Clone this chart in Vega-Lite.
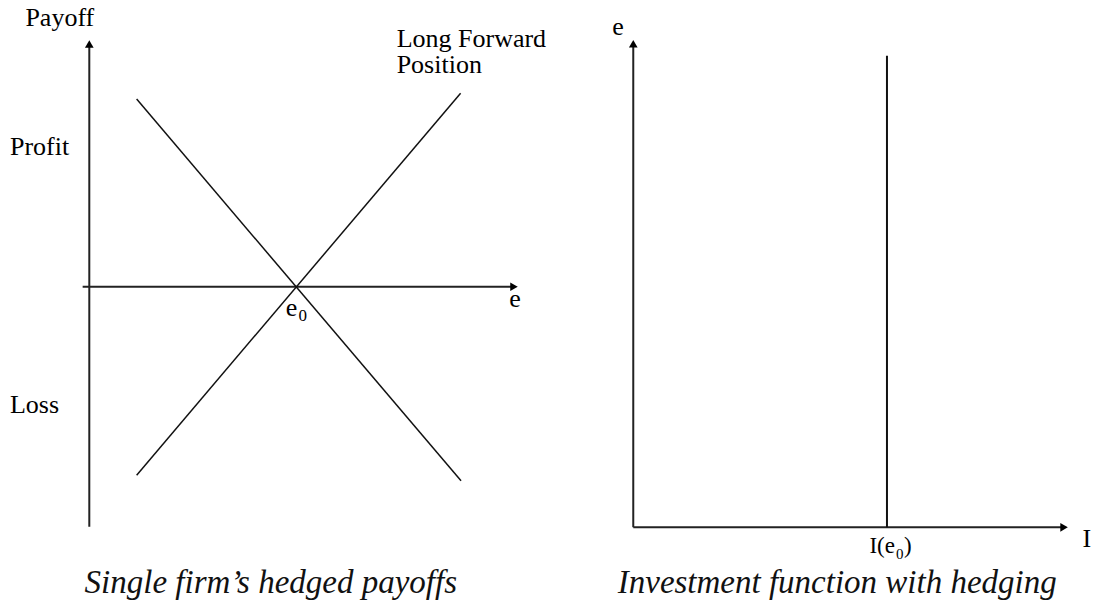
{
  "$schema": "https://vega.github.io/schema/vega-lite/v6.json",
  "padding": 0,
  "spacing": 0,
  "background": "white",
  "config": {"view": {"stroke": null}, "concat": {"spacing": 0}, "text": {"font": "Liberation Serif"}},
  "datasets": {
    "leftSegments": [
      {"kind": "axis", "x": 0, "y": -12.77, "x2": 0, "y2": 12.91},
      {"kind": "axis", "x": -0.32, "y": 0, "x2": 20.45, "y2": 0},
      {"kind": "payoff", "x": 2.28, "y": 9.98, "x2": 17.9, "y2": -10.32},
      {"kind": "payoff", "x": 2.28, "y": -10.02, "x2": 17.88, "y2": 10.29}
    ],
    "leftArrows": [
      {"axis": "vertical", "x": 0, "y": 12.91},
      {"axis": "horizontal", "x": 20.45, "y": 0}
    ],
    "leftLabels": [
      {"role": "center", "label": "Payoff", "x": -1.42, "y": 13.87},
      {"role": "left", "label": "Profit", "x": -3.82, "y": 7.0},
      {"role": "left", "label": "Loss", "x": -3.82, "y": -6.72},
      {"role": "left", "label": "Long Forward", "x": 14.8, "y": 12.77},
      {"role": "left", "label": "Position", "x": 14.8, "y": 11.38},
      {"role": "center", "label": "e", "x": 20.5, "y": -1.08},
      {"role": "center", "label": "e", "x": 9.74, "y": -1.56},
      {"role": "subscript", "label": "0", "x": 10.07, "y": -1.82},
      {"role": "caption", "label": "Single firm’s hedged payoffs", "x": 8.74, "y": -16.31}
    ],
    "rightSegments": [
      {"kind": "axis", "x": 0, "y": 0, "x2": 0, "y2": 10.25},
      {"kind": "axis", "x": 0, "y": 0, "x2": 16.98, "y2": 0},
      {"kind": "investment", "x": 10, "y": 0, "x2": 10, "y2": 10}
    ],
    "rightArrows": [
      {"axis": "vertical", "x": 0, "y": 10.25},
      {"axis": "horizontal", "x": 16.98, "y": 0}
    ],
    "rightLabels": [
      {"role": "center", "label": "e", "x": -0.6, "y": 10.44},
      {"role": "center", "label": "I", "x": 17.88, "y": -0.42},
      {"role": "right", "label": "I(e", "x": 10.315, "y": -0.545},
      {"role": "subscript", "label": "0", "x": 10.355, "y": -0.672},
      {"role": "paren", "label": ")", "x": 10.67, "y": -0.545},
      {"role": "caption", "label": "Investment function with hedging", "x": 8.04, "y": -1.4}
    ]
  },
  "hconcat": [
    {
      "width": 547,
      "height": 600,
      "layer": [
        {
          "data": {"name": "leftSegments"},
          "transform": [{"filter": "datum.kind == 'axis'"}],
          "mark": {"type": "rule", "color": "#222", "strokeWidth": 2},
          "encoding": {
            "x": {"field": "x", "type": "quantitative", "scale": {"domain": [-4.3, 22.04], "nice": false, "zero": false}, "axis": null},
            "y": {"field": "y", "type": "quantitative", "scale": {"domain": [-16.66, 15.25], "nice": false, "zero": false}, "axis": null},
            "x2": {"field": "x2"},
            "y2": {"field": "y2"}
          }
        },
        {
          "data": {"name": "leftSegments"},
          "transform": [{"filter": "datum.kind == 'payoff'"}],
          "mark": {"type": "rule", "color": "#111", "strokeWidth": 1.5},
          "encoding": {
            "x": {"field": "x", "type": "quantitative", "scale": {"domain": [-4.3, 22.04], "nice": false, "zero": false}, "axis": null},
            "y": {"field": "y", "type": "quantitative", "scale": {"domain": [-16.66, 15.25], "nice": false, "zero": false}, "axis": null},
            "x2": {"field": "x2"},
            "y2": {"field": "y2"}
          }
        },
        {
          "data": {"name": "leftArrows"},
          "transform": [{"filter": "datum.axis == 'vertical'"}],
          "mark": {"type": "point", "shape": "triangle-up", "filled": true, "color": "#000", "size": 75, "opacity": 1},
          "encoding": {
            "x": {"field": "x", "type": "quantitative", "scale": {"domain": [-4.3, 22.04], "nice": false, "zero": false}, "axis": null},
            "y": {"field": "y", "type": "quantitative", "scale": {"domain": [-16.66, 15.25], "nice": false, "zero": false}, "axis": null}
          }
        },
        {
          "data": {"name": "leftArrows"},
          "transform": [{"filter": "datum.axis == 'horizontal'"}],
          "mark": {"type": "point", "shape": "triangle-right", "filled": true, "color": "#000", "size": 75, "opacity": 1},
          "encoding": {
            "x": {"field": "x", "type": "quantitative", "scale": {"domain": [-4.3, 22.04], "nice": false, "zero": false}, "axis": null},
            "y": {"field": "y", "type": "quantitative", "scale": {"domain": [-16.66, 15.25], "nice": false, "zero": false}, "axis": null}
          }
        },
        {
          "data": {"name": "leftLabels"},
          "transform": [{"filter": "datum.role == 'center'"}],
          "mark": {"type": "text", "font": "Liberation Serif", "fontSize": 26, "align": "center", "baseline": "alphabetic", "color": "#000"},
          "encoding": {
            "x": {"field": "x", "type": "quantitative", "scale": {"domain": [-4.3, 22.04], "nice": false, "zero": false}, "axis": null},
            "y": {"field": "y", "type": "quantitative", "scale": {"domain": [-16.66, 15.25], "nice": false, "zero": false}, "axis": null},
            "text": {"field": "label"}
          }
        },
        {
          "data": {"name": "leftLabels"},
          "transform": [{"filter": "datum.role == 'left'"}],
          "mark": {"type": "text", "font": "Liberation Serif", "fontSize": 26, "align": "left", "baseline": "alphabetic", "color": "#000"},
          "encoding": {
            "x": {"field": "x", "type": "quantitative", "scale": {"domain": [-4.3, 22.04], "nice": false, "zero": false}, "axis": null},
            "y": {"field": "y", "type": "quantitative", "scale": {"domain": [-16.66, 15.25], "nice": false, "zero": false}, "axis": null},
            "text": {"field": "label"}
          }
        },
        {
          "data": {"name": "leftLabels"},
          "transform": [{"filter": "datum.role == 'subscript'"}],
          "mark": {"type": "text", "font": "Liberation Serif", "fontSize": 17, "align": "left", "baseline": "alphabetic", "color": "#000"},
          "encoding": {
            "x": {"field": "x", "type": "quantitative", "scale": {"domain": [-4.3, 22.04], "nice": false, "zero": false}, "axis": null},
            "y": {"field": "y", "type": "quantitative", "scale": {"domain": [-16.66, 15.25], "nice": false, "zero": false}, "axis": null},
            "text": {"field": "label"}
          }
        },
        {
          "data": {"name": "leftLabels"},
          "transform": [{"filter": "datum.role == 'caption'"}],
          "mark": {"type": "text", "font": "Liberation Serif", "fontStyle": "italic", "fontSize": 33, "align": "center", "baseline": "alphabetic", "color": "#111"},
          "encoding": {
            "x": {"field": "x", "type": "quantitative", "scale": {"domain": [-4.3, 22.04], "nice": false, "zero": false}, "axis": null},
            "y": {"field": "y", "type": "quantitative", "scale": {"domain": [-16.66, 15.25], "nice": false, "zero": false}, "axis": null},
            "text": {"field": "label"}
          }
        }
      ]
    },
    {
      "width": 547,
      "height": 600,
      "layer": [
        {
          "data": {"name": "rightSegments"},
          "transform": [{"filter": "datum.kind == 'axis'"}],
          "mark": {"type": "rule", "color": "#222", "strokeWidth": 2},
          "encoding": {
            "x": {"field": "x", "type": "quantitative", "scale": {"domain": [-3.4, 18.16], "nice": false, "zero": false}, "axis": null},
            "y": {"field": "y", "type": "quantitative", "scale": {"domain": [-1.54, 11.18], "nice": false, "zero": false}, "axis": null},
            "x2": {"field": "x2"},
            "y2": {"field": "y2"}
          }
        },
        {
          "data": {"name": "rightSegments"},
          "transform": [{"filter": "datum.kind == 'investment'"}],
          "mark": {"type": "rule", "color": "#111", "strokeWidth": 2},
          "encoding": {
            "x": {"field": "x", "type": "quantitative", "scale": {"domain": [-3.4, 18.16], "nice": false, "zero": false}, "axis": null},
            "y": {"field": "y", "type": "quantitative", "scale": {"domain": [-1.54, 11.18], "nice": false, "zero": false}, "axis": null},
            "x2": {"field": "x2"},
            "y2": {"field": "y2"}
          }
        },
        {
          "data": {"name": "rightArrows"},
          "transform": [{"filter": "datum.axis == 'vertical'"}],
          "mark": {"type": "point", "shape": "triangle-up", "filled": true, "color": "#000", "size": 75, "opacity": 1},
          "encoding": {
            "x": {"field": "x", "type": "quantitative", "scale": {"domain": [-3.4, 18.16], "nice": false, "zero": false}, "axis": null},
            "y": {"field": "y", "type": "quantitative", "scale": {"domain": [-1.54, 11.18], "nice": false, "zero": false}, "axis": null}
          }
        },
        {
          "data": {"name": "rightArrows"},
          "transform": [{"filter": "datum.axis == 'horizontal'"}],
          "mark": {"type": "point", "shape": "triangle-right", "filled": true, "color": "#000", "size": 75, "opacity": 1},
          "encoding": {
            "x": {"field": "x", "type": "quantitative", "scale": {"domain": [-3.4, 18.16], "nice": false, "zero": false}, "axis": null},
            "y": {"field": "y", "type": "quantitative", "scale": {"domain": [-1.54, 11.18], "nice": false, "zero": false}, "axis": null}
          }
        },
        {
          "data": {"name": "rightLabels"},
          "transform": [{"filter": "datum.role == 'center'"}],
          "mark": {"type": "text", "font": "Liberation Serif", "fontSize": 26, "align": "center", "baseline": "alphabetic", "color": "#000"},
          "encoding": {
            "x": {"field": "x", "type": "quantitative", "scale": {"domain": [-3.4, 18.16], "nice": false, "zero": false}, "axis": null},
            "y": {"field": "y", "type": "quantitative", "scale": {"domain": [-1.54, 11.18], "nice": false, "zero": false}, "axis": null},
            "text": {"field": "label"}
          }
        },
        {
          "data": {"name": "rightLabels"},
          "transform": [{"filter": "datum.role == 'right'"}],
          "mark": {"type": "text", "font": "Liberation Serif", "fontSize": 23, "align": "right", "baseline": "alphabetic", "color": "#000"},
          "encoding": {
            "x": {"field": "x", "type": "quantitative", "scale": {"domain": [-3.4, 18.16], "nice": false, "zero": false}, "axis": null},
            "y": {"field": "y", "type": "quantitative", "scale": {"domain": [-1.54, 11.18], "nice": false, "zero": false}, "axis": null},
            "text": {"field": "label"}
          }
        },
        {
          "data": {"name": "rightLabels"},
          "transform": [{"filter": "datum.role == 'paren'"}],
          "mark": {"type": "text", "font": "Liberation Serif", "fontSize": 23, "align": "left", "baseline": "alphabetic", "color": "#000"},
          "encoding": {
            "x": {"field": "x", "type": "quantitative", "scale": {"domain": [-3.4, 18.16], "nice": false, "zero": false}, "axis": null},
            "y": {"field": "y", "type": "quantitative", "scale": {"domain": [-1.54, 11.18], "nice": false, "zero": false}, "axis": null},
            "text": {"field": "label"}
          }
        },
        {
          "data": {"name": "rightLabels"},
          "transform": [{"filter": "datum.role == 'subscript'"}],
          "mark": {"type": "text", "font": "Liberation Serif", "fontSize": 15, "align": "left", "baseline": "alphabetic", "color": "#000"},
          "encoding": {
            "x": {"field": "x", "type": "quantitative", "scale": {"domain": [-3.4, 18.16], "nice": false, "zero": false}, "axis": null},
            "y": {"field": "y", "type": "quantitative", "scale": {"domain": [-1.54, 11.18], "nice": false, "zero": false}, "axis": null},
            "text": {"field": "label"}
          }
        },
        {
          "data": {"name": "rightLabels"},
          "transform": [{"filter": "datum.role == 'caption'"}],
          "mark": {"type": "text", "font": "Liberation Serif", "fontStyle": "italic", "fontSize": 33, "align": "center", "baseline": "alphabetic", "color": "#111"},
          "encoding": {
            "x": {"field": "x", "type": "quantitative", "scale": {"domain": [-3.4, 18.16], "nice": false, "zero": false}, "axis": null},
            "y": {"field": "y", "type": "quantitative", "scale": {"domain": [-1.54, 11.18], "nice": false, "zero": false}, "axis": null},
            "text": {"field": "label"}
          }
        }
      ]
    }
  ]
}
